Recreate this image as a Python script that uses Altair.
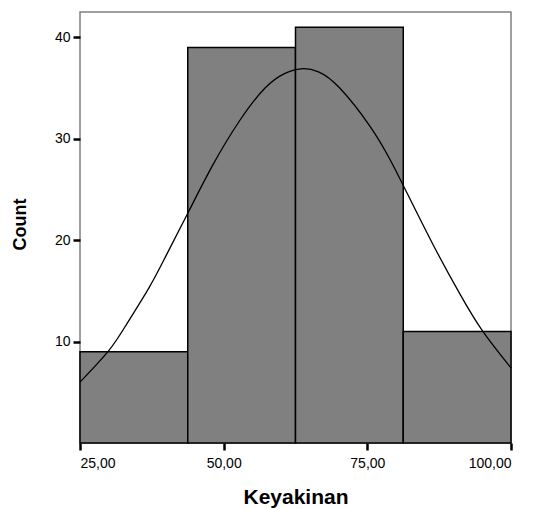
import altair as alt
import pandas as pd

# Histogram bins (Keyakinan) and counts
bin_start = [25.0, 43.75, 62.5, 81.25]
bin_end = [43.75, 62.5, 81.25, 100.0]
counts = [9, 39, 41, 11]

# Normal curve
curve_x = [25.0, 30.0, 33.2, 37.0, 40.0, 43.8, 48.0, 52.8, 57.2, 60.5, 63.5,
           66.5, 70.2, 75.5, 78.9, 81.6, 86.4, 91.1, 95.1, 100.0]
curve_y = [6.0, 9.1, 11.8, 15.3, 18.5, 22.7, 27.3, 31.8, 35.0, 36.4, 36.9,
           36.6, 35.0, 31.2, 28.0, 25.0, 19.6, 14.7, 11.0, 7.4]

x_ticks = [25, 50, 75, 100]
y_ticks = [10, 20, 30, 40]

bars_df = pd.DataFrame({"start": bin_start, "end": bin_end, "count": counts})
curve_df = pd.DataFrame({"start": curve_x, "count": curve_y})

FONT = "Liberation Sans"

x_scale = alt.Scale(domain=[25, 100], nice=False, zero=False)
y_scale = alt.Scale(domain=[0, 42.5], nice=False)

x_axis = alt.Axis(values=x_ticks, title="Keyakinan",
                  labelExpr="replace(format(datum.value, '.2f'), '.', ',')",
                  domain=False, grid=False, tickSize=7, tickWidth=2.5,
                  tickColor="black", labelPadding=6,
                  labelFont=FONT, labelFontSize=14, labelColor="black",
                  titleFont=FONT, titleFontSize=21, titleFontWeight="bold",
                  titleColor="black", titleY=54, titleBaseline="middle")
y_axis = alt.Axis(values=y_ticks, title="Count", domain=False, grid=False,
                  tickSize=7, tickWidth=2.5, tickColor="black",
                  labelPadding=3, labelFont=FONT, labelFontSize=14,
                  labelColor="black", titleFont=FONT, titleFontSize=18,
                  titleFontWeight="bold", titleColor="black",
                  titleX=-60, titleY=212, titleAlign="center",
                  titleBaseline="middle")

bars = alt.Chart(bars_df).mark_rect(
    color="#808080", stroke="black", strokeWidth=1.5
).encode(
    x=alt.X("start:Q", scale=x_scale, axis=x_axis),
    x2="end:Q",
    y=alt.Y("count:Q", scale=y_scale, axis=y_axis),
    y2=alt.datum(0),
)

curve = alt.Chart(curve_df).mark_line(
    color="black", strokeWidth=1.3, interpolate="natural"
).encode(
    x=alt.X("start:Q", scale=x_scale, axis=x_axis),
    y=alt.Y("count:Q", scale=y_scale, axis=y_axis),
)

chart = alt.layer(bars, curve).properties(
    width=431, height=431,
    autosize=alt.AutoSizeParams(type="none"),
    padding={"left": 72, "top": 4, "right": 16, "bottom": 66},
).configure_view(stroke="#808080", strokeWidth=1.5)

chart.save("out.html", embed_options={"renderer": "svg", "actions": False})
